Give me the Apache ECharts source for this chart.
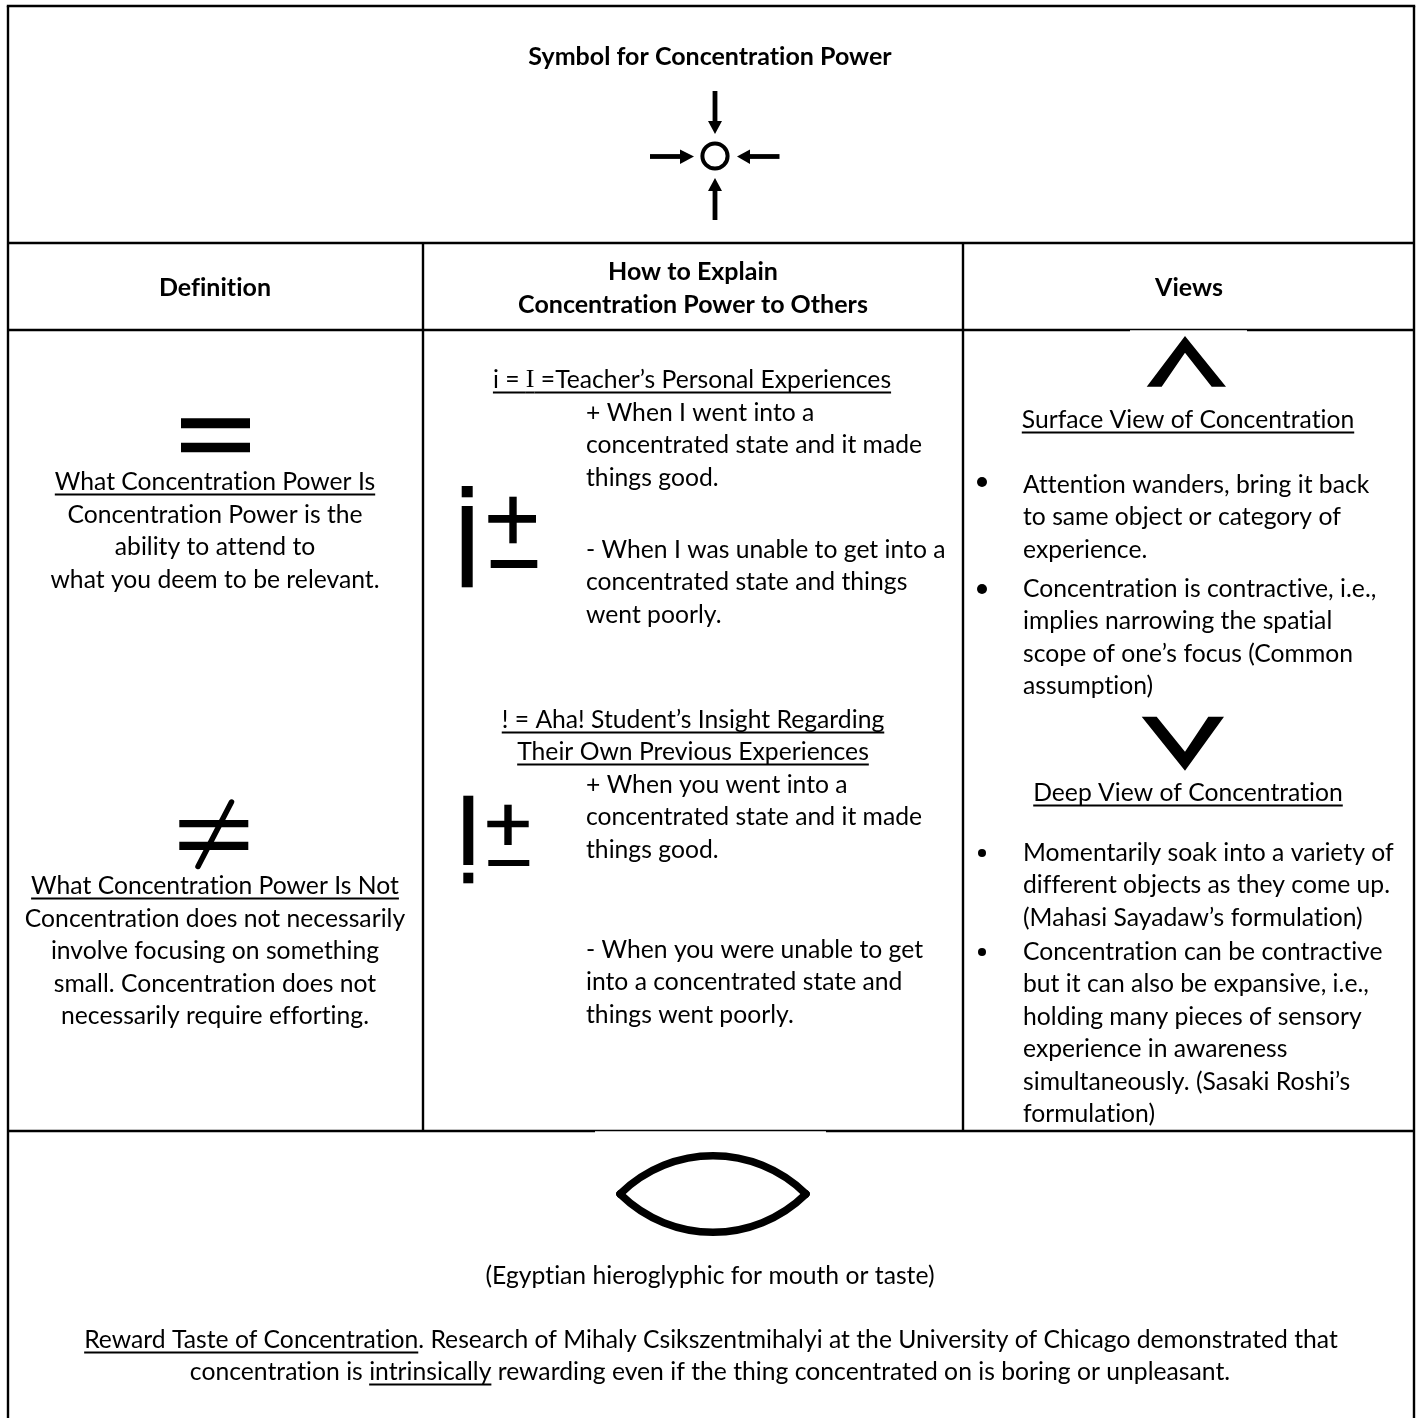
<!DOCTYPE html>
<html>
<head>
<meta charset="utf-8">
<title>Symbol for Concentration Power</title>
<script src="https://cdn.jsdelivr.net/npm/echarts@6/dist/echarts.min.js"></script>
<style>
html,body{margin:0;padding:0;background:#fff;}
#main{width:1418px;height:1418px;}
</style>
</head>
<body>
<div id="main"></div>
<script>
// table text
var titleText = 'Symbol for Concentration Power';
var headDefinition = ['Definition'];
var headExplain = ['How to Explain', 'Concentration Power to Others'];
var headViews = ['Views'];

var isHeading = 'What Concentration Power Is';
var isBody = ['Concentration Power is the', 'ability to attend to', 'what you deem to be relevant.'];
var notHeading = 'What Concentration Power Is Not';
var notBody = ['Concentration does not necessarily', 'involve focusing on something', 'small. Concentration does not', 'necessarily require efforting.'];

var teacherHeading = [['i = ', 0], ['I', 1], [' =Teacher\u2019s Personal Experiences', 0]];
var teacherGood = ['+ When I went into a', 'concentrated state and it made', 'things good.'];
var teacherBad = ['- When I was unable to get into a', 'concentrated state and things', 'went poorly.'];
var studentHeading = ['! = Aha! Student\u2019s Insight Regarding', 'Their Own Previous Experiences'];
var studentGood = ['+ When you went into a', 'concentrated state and it made', 'things good.'];
var studentBad = ['- When you were unable to get', 'into a concentrated state and', 'things went poorly.'];

var surfaceHeading = 'Surface View of Concentration';
var surfaceOne = ['Attention wanders, bring it back', 'to same object or category of', 'experience.'];
var surfaceTwo = ['Concentration is contractive, i.e.,', 'implies narrowing the spatial', 'scope of one\u2019s focus (Common', 'assumption)'];
var deepHeading = 'Deep View of Concentration';
var deepOne = ['Momentarily soak into a variety of', 'different objects as they come up.', '(Mahasi Sayadaw\u2019s formulation)'];
var deepTwo = ['Concentration can be contractive', 'but it can also be expansive, i.e.,', 'holding many pieces of sensory', 'experience in awareness', 'simultaneously. (Sasaki Roshi\u2019s', 'formulation)'];

var mouthCaption = '(Egyptian hieroglyphic for mouth or taste)';
var rewardOne = [['Reward Taste of Concentration', 1], ['. Research of Mihaly Csikszentmihalyi at the University of Chicago demonstrated that', 0]];
var rewardTwo = [['concentration is ', 0], ['intrinsically', 1], [' rewarding even if the thing concentrated on is boring or unpleasant.', 0]];

var FONT = '24.7px Lato';
var BOLD = 'bold 25px Lato';
var SERIF = '26px "Liberation Serif"';
var STEP = 32.5;
var UNDER = 12.5;

var myChart = echarts.init(document.getElementById('main'));
// a tiny letter spacing switches off the tt/ti/ff ligatures of Lato
var NO_LIG = '0.01px';
myChart.getZr().painter.getLayer(0).ctx.letterSpacing = NO_LIG;
var ctx = document.createElement('canvas').getContext('2d');
ctx.letterSpacing = NO_LIG;
var els = [];

function widthOf(str, font) {
    ctx.font = font;
    return ctx.measureText(str).width;
}
function text(str, x, y, align, font) {
    els.push({type: 'text', silent: true, style: {text: str, x: x, y: y, align: align, verticalAlign: 'middle', font: font || FONT, fill: '#000'}});
}
function rect(x1, y1, x2, y2, fill) {
    els.push({type: 'rect', silent: true, shape: {x: x1, y: y1, width: x2 - x1, height: y2 - y1}, style: {fill: fill || '#000'}});
}
function line(x1, y1, x2, y2, w, cap) {
    els.push({type: 'line', silent: true, shape: {x1: x1, y1: y1, x2: x2, y2: y2}, style: {stroke: '#000', lineWidth: w, lineCap: cap || 'butt'}});
}
function poly(points) {
    els.push({type: 'polygon', silent: true, shape: {points: points}, style: {fill: '#000'}});
}
function block(lines, x, y, align) {
    lines.forEach(function (s, i) { text(s, x, y + i * STEP, align); });
}
function underlined(str, cx, y) {
    var w = widthOf(str, FONT);
    text(str, cx, y, 'center');
    line(cx - w / 2, y + UNDER, cx + w / 2, y + UNDER, 2);
}
// line made of runs, each run is [text, flag]
function runs(parts, cx, y, serifFlag) {
    var fontOf = function (p) { return serifFlag && p[1] ? SERIF : FONT; };
    var total = 0;
    parts.forEach(function (p) { total += widthOf(p[0], fontOf(p)); });
    var x = cx - total / 2;
    parts.forEach(function (p) {
        var w = widthOf(p[0], fontOf(p));
        text(p[0], x, y, 'left', fontOf(p));
        if (p[1] || serifFlag) line(x, y + UNDER, x + w, y + UNDER, 2);
        x += w;
    });
}
function bullet(x, y, r) {
    els.push({type: 'circle', silent: true, shape: {cx: x, cy: y, r: r}, style: {fill: '#000'}});
}

// grid lines
var LW = 2.4;
var LEFT = 8;
var RIGHT = 1414;
line(LEFT - 1.2, 6, RIGHT + 1.2, 6, LW);
line(LEFT, 243, RIGHT, 243, LW);
line(LEFT, 330, RIGHT, 330, LW);
line(LEFT, 1131, RIGHT, 1131, LW);
line(LEFT, 6, LEFT, 1418, LW);
line(RIGHT, 6, RIGHT, 1418, LW);
line(423, 243, 423, 1131, LW);
line(963, 243, 963, 1131, LW);
// pictures in the original sit over part of the rule
rect(1130, 330.2, 1247, 332, '#fff');
rect(595, 1131.2, 826, 1133, '#fff');

// title
text(titleText, 710, 57, 'center', BOLD);

// concentration symbol
line(715, 91, 715, 123, 4.8);
poly([[708, 121], [722, 121], [715, 134]]);
line(715, 220, 715, 189, 4.8);
poly([[708, 191], [722, 191], [715, 178]]);
line(650, 156.5, 682, 156.5, 4.8);
poly([[680, 149.5], [680, 164], [694, 156.5]]);
line(779.5, 156.5, 748, 156.5, 4.8);
poly([[750, 149.5], [750, 164], [737, 156.5]]);
els.push({type: 'circle', silent: true, shape: {cx: 715, cy: 156, r: 12.6}, style: {fill: 'none', stroke: '#000', lineWidth: 4}});

// header row
block(headDefinition, 215, 288, 'center');
block(headExplain, 693, 272, 'center');
block(headViews, 1189, 288, 'center');
els.slice(-4).forEach(function (e) { e.style.font = BOLD; });

// definition column
rect(181, 418.3, 250, 428.3);
rect(181, 442.7, 250, 452.3);
underlined(isHeading, 215, 482);
block(isBody, 215, 515, 'center');

rect(179.3, 820, 248.3, 827.3);
rect(179.3, 841.7, 248.3, 850);
line(231.5, 802, 198, 866.5, 5.5, 'round');
underlined(notHeading, 215, 886);
block(notBody, 215, 919, 'center');

// explain column
runs(teacherHeading, 692, 380, true);
block(teacherGood, 586, 413, 'left');
block(teacherBad, 586, 550, 'left');
rect(461.7, 486, 472.7, 497.3);
rect(461.7, 506, 472.7, 587.3);
rect(488.3, 515, 536, 522.7);
rect(509.3, 496.7, 516.7, 543.3);
rect(490.7, 560, 537.3, 568);

underlined(studentHeading[0], 693, 720);
underlined(studentHeading[1], 693, 752);
block(studentGood, 586, 785, 'left');
block(studentBad, 586, 950, 'left');
rect(463.3, 795.7, 473.3, 865);
rect(463.3, 872.7, 473.3, 883.3);
rect(487.3, 820.7, 528.7, 827.3);
rect(504.3, 804.7, 511.7, 845);
rect(488.3, 860, 529.3, 866);

// views column
poly([[1185, 336], [1226, 386.7], [1211.7, 386.7], [1185, 352.7], [1161.7, 386.7], [1146.7, 386.7]]);
underlined(surfaceHeading, 1188, 420);
bullet(982, 482, 5);
block(surfaceOne, 1023, 485, 'left');
bullet(982, 589, 5);
block(surfaceTwo, 1023, 589, 'left');

poly([[1141.7, 716.7], [1156.7, 716.7], [1185, 751.7], [1208.3, 716.7], [1224, 716.7], [1185, 770.7]]);
underlined(deepHeading, 1188, 793);
bullet(982, 853, 4);
block(deepOne, 1023, 853, 'left');
bullet(982, 952, 4);
block(deepTwo, 1023, 952, 'left');

// mouth symbol
['top', 'bottom'].forEach(function (side) {
    var cy = side === 'top' ? 1143 : 1245;
    els.push({type: 'bezierCurve', silent: true, shape: {x1: 620, y1: 1194, x2: 806, y2: 1194, cpx1: 672, cpy1: cy, cpx2: 754, cpy2: cy},
        style: {stroke: '#000', lineWidth: 7.5, fill: 'none', lineCap: 'round'}});
});

// bottom row
text(mouthCaption, 710, 1276, 'center');
runs(rewardOne, 711, 1340);
runs(rewardTwo, 710, 1372);

myChart.setOption({
    backgroundColor: '#fff',
    animation: false,
    graphic: {elements: els}
});
</script>
</body>
</html>
